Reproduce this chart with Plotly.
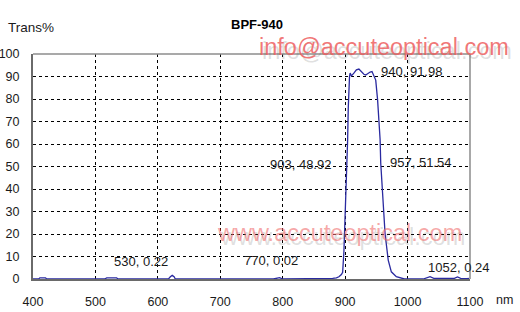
import plotly.graph_objects as go

# Transmission curve
wavelength_nm = [400, 409, 411, 420, 422, 515, 518, 534, 536, 617, 620, 623, 626, 628,
                 785, 790, 795, 800, 870, 880, 886, 890, 894, 896, 898, 899, 901, 903,
                 904, 905, 906, 907, 908, 910, 914, 918, 922, 926, 930, 933, 937, 940,
                 943, 946, 949, 952, 955, 956, 957, 960, 964, 969, 974, 982, 990, 995,
                 1025, 1030, 1036, 1042, 1052, 1075, 1080, 1085, 1095, 1100]
transmission = [0, 0, 0.5, 0.5, 0, 0, 0.5, 0.5, 0, 0, 1.0, 1.6, 1.0, 0,
                0, 0.3, 0.6, 0, 0, 0.3, 0.5, 1.0, 2.0, 3.0, 12, 20, 36, 48.92,
                62, 76, 86, 90, 91.5, 90.3, 91.5, 93.0, 93.3, 92.0, 91.0, 90.7, 91.5, 91.98,
                92.2, 90.5, 88.4, 79.5, 68, 62, 51.54, 39.6, 20, 8.4, 3.2, 1.0, 0.3, 0,
                0, 0.5, 1.0, 0.3, 0.24, 0.3, 0.9, 0.3, 0.2, 0.3]

# Point labels on the chart
label_texts = ["530, 0.22", "770, 0.02", "903, 48.92", "957, 51.54", "940, 91.98", "1052, 0.24"]
label_x = [526.5, 734.8, 776.0, 968.6, 954.0, 1029.5]
label_y = [8.0, 8.4, 51.1, 52.0, 92.4, 5.3]

x_ticks = [400, 500, 600, 700, 800, 900, 1000, 1100]
y_ticks = [0, 10, 20, 30, 40, 50, 60, 70, 80, 90, 100]

font_main = "Liberation Sans, Arial, sans-serif"

fig = go.Figure()
fig.add_trace(go.Scatter(x=wavelength_nm, y=transmission, mode="lines",
                         line=dict(color="#2a2aa0", width=1.3), hoverinfo="skip",
                         showlegend=False))

annotations = []
for t, x, y in zip(label_texts, label_x, label_y):
    annotations.append(dict(text=t, x=x, y=y, xref="x", yref="y", xanchor="left",
                            yanchor="middle", showarrow=False,
                            font=dict(family=font_main, size=13, color="#1a1a1a")))

# Title and axis captions
annotations.append(dict(text="<b>BPF-940</b>", x=(256.5 - 33) / 437, y=(279 - 24) / 225,
                        xref="paper", yref="paper", showarrow=False, xanchor="center",
                        yanchor="middle", font=dict(family=font_main, size=13, color="#000")))
annotations.append(dict(text="Trans%", x=(6 - 33) / 437, y=(279 - 28) / 225,
                        xref="paper", yref="paper", showarrow=False, xanchor="left",
                        yanchor="middle", font=dict(family=font_main, size=13.5, color="#1a1a1a")))
annotations.append(dict(text="nm", x=(494 - 33) / 437, y=(279 - 300) / 225,
                        xref="paper", yref="paper", showarrow=False, xanchor="left",
                        yanchor="middle", font=dict(family=font_main, size=12.5, color="#1a1a1a")))

# Watermarks with soft shadow
wm = [("info@accuteoptical.com", 257, 47, "rgba(238,95,95,0.85)"),
      ("www.accuteoptical.com", 215, 233, "rgba(240,110,110,0.6)")]
for text, px, py, col in wm:
    annotations.append(dict(text=text, x=(px - 33) / 437, y=(279 - py) / 225,
                            xref="paper", yref="paper", showarrow=False,
                            xanchor="left", yanchor="middle", xshift=3, yshift=-4,
                            font=dict(family=font_main, size=23.5,
                                      color="rgba(90,90,90,0.2)")))
    annotations.append(dict(text=text, x=(px - 33) / 437, y=(279 - py) / 225,
                            xref="paper", yref="paper", showarrow=False,
                            xanchor="left", yanchor="middle",
                            font=dict(family=font_main, size=23.5, color=col)))

fig.update_layout(
    width=520, height=312,
    margin=dict(l=33, r=50, t=54, b=33, autoexpand=False),
    paper_bgcolor="white", plot_bgcolor="white",
    annotations=annotations,
    shapes=[
        dict(type="line", xref="paper", yref="paper", x0=0, x1=1, y0=1, y1=1,
             line=dict(color="#8c8c8c", width=1.5), layer="above"),
        dict(type="line", xref="paper", yref="paper", x0=1, x1=1, y0=0, y1=1,
             line=dict(color="#a8a8a8", width=2), layer="above"),
    ],
    xaxis=dict(range=[400, 1100], tickvals=x_ticks, ticktext=[str(v) for v in x_ticks],
               showgrid=True, gridcolor="#000", gridwidth=1, griddash="3px,3px",
               showline=True, linecolor="#6a6a6a", linewidth=2, ticks="",
               ticklabelstandoff=10, zeroline=False, automargin=False,
               tickfont=dict(family=font_main, size=12.5, color="#1a1a1a")),
    yaxis=dict(range=[0, 100], tickvals=y_ticks, ticktext=[str(v) for v in y_ticks],
               showgrid=True, gridcolor="#000", gridwidth=1, griddash="3px,3px",
               showline=True, linecolor="#6a6a6a", linewidth=2, ticks="",
               ticklabelstandoff=9, zeroline=False, automargin=False,
               tickfont=dict(family=font_main, size=12.5, color="#1a1a1a")),
)

fig.write_html("out.html")
